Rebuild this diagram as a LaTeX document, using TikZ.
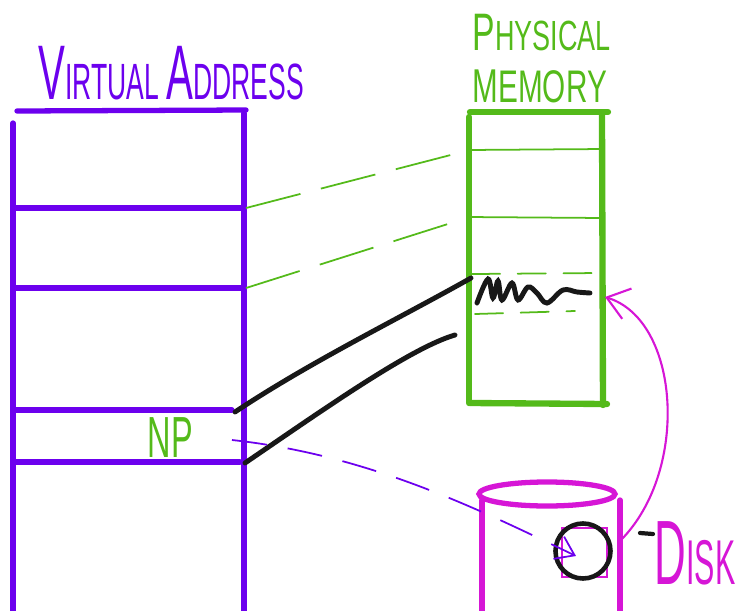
\documentclass[tikz,border=0pt]{standalone}
\usepackage{fontspec}
\setmainfont{Liberation Sans}
\usepackage{graphicx}
\usetikzlibrary{arrows.meta}
\definecolor{vpurple}{RGB}{108,0,238}
\definecolor{pgreen}{RGB}{84,186,26}
\definecolor{dmagenta}{RGB}{214,22,214}
\definecolor{inkblack}{RGB}{24,24,24}
\newcommand{\hw}[2][0.56]{\scalebox{#1}[1]{#2}}
\newcommand{\fs}[1]{\fontsize{#1}{#1}\selectfont}
\tikzset{
  vline/.style={vpurple, line width=1.5pt, line cap=round},
  pline/.style={pgreen, line width=1.8pt, line cap=round},
  pthin/.style={pgreen, line width=0.5pt, line cap=round},
  maplink/.style={pgreen, line width=0.5pt, dash pattern=on 16pt off 6pt},
  ink/.style={inkblack, line width=1.4pt, line cap=round},
  diskline/.style={dmagenta, line width=1.5pt, line cap=round},
  hand/.style={inner sep=0pt, anchor=base west, text depth=0pt},
}
\begin{document}
\begin{tikzpicture}[x=0.01cm, y=-0.01cm]
  \useasboundingbox (0,0) rectangle (738,611);
  % Titles
  \node[hand, vpurple] (vtitle) at (38,99) {\hw[0.52]{\fs{22}V\fs{14.5}IRTUAL \fs{22}A\fs{14.5}DDRESS}};
  \node[hand, pgreen] (ptitle) at (472,50) {\hw[0.64]{\fs{15}P\fs{12}HYSICAL}};
  \node[hand, pgreen] (mtitle) at (472,102) {\hw[0.65]{\fs{13.5}M\fs{13}EMORY}};
  % Virtual address space
  \draw[vline] (17,111) -- (246,110);
  \draw[vline] (13,123) -- (13,611);
  \draw[vline] (244,113) -- (244,611);
  \draw[vline] (13,208) -- (244,208);
  \draw[vline] (13,288) -- (244,288);
  \draw[vline] (13,410) -- (232,410);
  \draw[vline] (13,462) -- (240,462);
  \node[hand, pgreen] (np) at (147,457) {\hw{\fs{16.5}NP}};
  \coordinate (va1) at (246,208);
  \coordinate (va2) at (246,288);
  \coordinate (np1) at (235,412);
  \coordinate (np2) at (245,463);
  \coordinate (npm) at (232,440);
  % Physical memory
  \draw[pline] (470,112) -- (608,112);
  \draw[pline] (469,117) -- (469,403);
  \draw[pline] (602,113) -- (603,405);
  \draw[pline] (470,403) -- (607,404);
  \draw[pthin] (467,150) -- (604,149);
  \draw[pthin] (467,217) -- (604,218);
  \draw[pthin, dash pattern=on 8pt off 5pt] (472,274) -- (600,273);
  \draw[pthin, dash pattern=on 8pt off 5pt] (475,314) -- (575,311);
  \coordinate (pm1) at (470,150);
  \coordinate (pm2) at (470,217);
  \coordinate (pmw) at (471,278);
  \coordinate (pm3) at (455,335);
  \coordinate (pmr) at (605,297);
  % Mappings
  \draw[maplink] (va1) -- (pm1);
  \draw[maplink] (va2) -- (pm2);
  \draw[ink] (np1) .. controls (310,362) and (400,318) .. (pmw);
  \draw[ink] (np2) .. controls (320,412) and (410,348) .. (pm3);
  \draw[ink] plot[smooth, tension=0.6] coordinates {(477,303) (488,279) (493,298) (498,281) (502,300) (512,283) (518,300) (528,287) (537,293) (547,303) (563,290) (577,292) (590,293)};
  % Disk
  \draw[diskline] (547,494) ellipse [x radius=68, y radius=12];
  \draw[diskline] (482,500) -- (482,611);
  \draw[diskline] (620,500) -- (620,611);
  \draw[dmagenta, line width=0.6pt] (562,528) rectangle (607,577);
  \node[circle, draw=inkblack, line width=1.3pt, minimum size=0.55cm, inner sep=0pt] (sector) at (583,551) {};
  \coordinate (sec) at (576,556);
  \coordinate (dsk) at (621,540);
  \draw[ink, line width=1.2pt] (640,533) -- (653,534);
  \node[hand, dmagenta] (disklabel) at (654,584) {\hw[0.48]{\fs{26}D\fs{18}ISK}};
  % Page-fault paths
  \draw[vpurple, line width=0.5pt, dash pattern=on 10pt off 6pt, -{Straight Barb[length=5pt,width=7pt]}] (npm) .. controls (370,455) and (480,510) .. (sec);
  \draw[dmagenta, line width=0.6pt, -{Straight Barb[length=6pt,width=9pt]}] (dsk) .. controls (690,470) and (680,320) .. (pmr);
\end{tikzpicture}
\end{document}
